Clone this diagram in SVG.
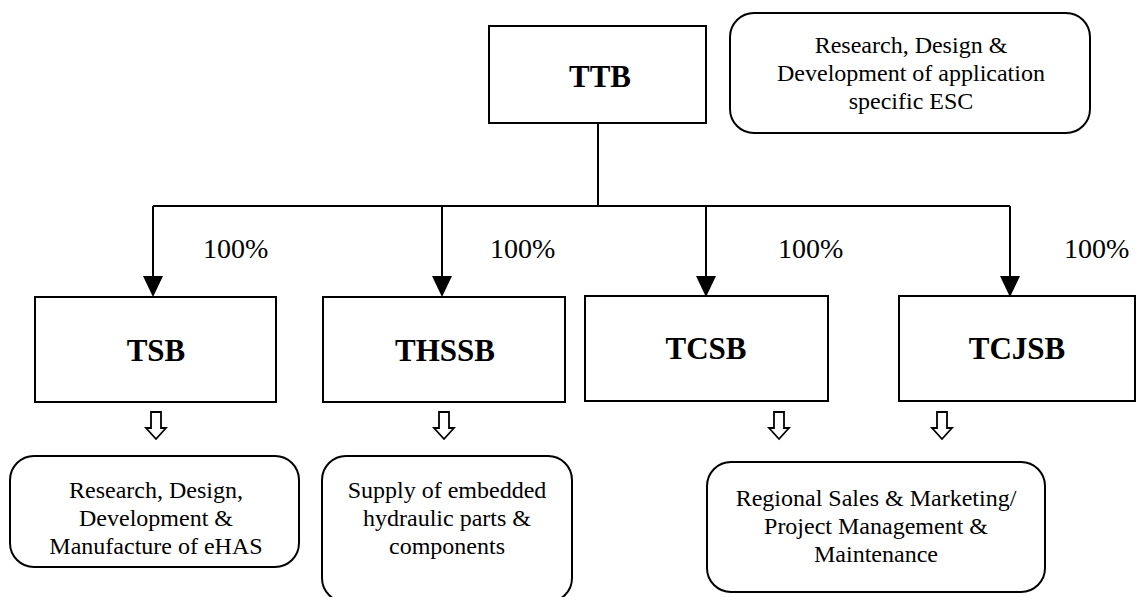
<svg xmlns="http://www.w3.org/2000/svg" width="1137" height="597" viewBox="0 0 1137 597">
<defs>
<style>
.box{fill:#fff;stroke:#000;stroke-width:2}
.rbox{fill:#fff;stroke:#000;stroke-width:2}
.t{font-family:"Liberation Serif","Times New Roman",serif;font-size:24px;fill:#000;text-anchor:middle}
.b{font-family:"Liberation Serif","Times New Roman",serif;font-size:31px;font-weight:bold;fill:#000;text-anchor:middle}
.p{font-family:"Liberation Serif","Times New Roman",serif;font-size:28px;fill:#000}
.ln{fill:none;stroke:#000;stroke-width:2}
.ha{fill:#fff;stroke:#000;stroke-width:1.8;stroke-linejoin:miter}
</style>
<path id="hollow" d="M-5,0 H5 V16 H10 L0,27 L-10,16 H-5 Z"/>
</defs>

<g id="connectors">
<line class="ln" x1="598" y1="123" x2="598" y2="206"/>
<line class="ln" x1="153" y1="206" x2="1010" y2="206"/>
<path class="ln" d="M153,206 V280"/>
<path class="ln" d="M442,206 V280"/>
<path class="ln" d="M706,206 V280"/>
<path class="ln" d="M1010,206 V280"/>
<path d="M143,276 L163,276 L153,297 Z" fill="#000"/>
<path d="M432,276 L452,276 L442,297 Z" fill="#000"/>
<path d="M696,276 L716,276 L706,297 Z" fill="#000"/>
<path d="M1000,276 L1020,276 L1010,297 Z" fill="#000"/>
<use href="#hollow" class="ha" x="156" y="412"/>
<use href="#hollow" class="ha" x="444" y="412"/>
<use href="#hollow" class="ha" x="779" y="412"/>
<use href="#hollow" class="ha" x="942" y="412"/>
</g>

<g id="labels">
<text class="p" x="203" y="258">100%</text>
<text class="p" x="490" y="258">100%</text>
<text class="p" x="778" y="258">100%</text>
<text class="p" x="1064" y="258">100%</text>
</g>

<g id="ttb">
<rect class="box" x="489" y="26" width="217" height="97"/>
<text class="b" x="600" y="87">TTB</text>
</g>

<g id="rd-esc">
<rect class="rbox" x="730" y="13" width="360" height="120" rx="24"/>
<text class="t" x="911" y="53">Research, Design &amp;</text>
<text class="t" x="911" y="81">Development of application</text>
<text class="t" x="911" y="109">specific ESC</text>
</g>

<g id="tsb">
<rect class="box" x="35" y="297" width="241" height="105"/>
<text class="b" x="156" y="361">TSB</text>
</g>

<g id="thssb">
<rect class="box" x="323" y="297" width="242" height="105"/>
<text class="b" x="445" y="361">THSSB</text>
</g>

<g id="tcsb">
<rect class="box" x="585" y="296" width="243" height="105"/>
<text class="b" x="706" y="359">TCSB</text>
</g>

<g id="tcjsb">
<rect class="box" x="899" y="296" width="236" height="105"/>
<text class="b" x="1017" y="359">TCJSB</text>
</g>

<g id="ehas">
<rect class="rbox" x="10" y="456" width="289" height="111" rx="24"/>
<text class="t" x="156" y="498">Research, Design,</text>
<text class="t" x="156" y="526">Development &amp;</text>
<text class="t" x="156" y="554">Manufacture of eHAS</text>
</g>

<g id="hydraulic">
<rect class="rbox" x="322" y="456" width="250" height="146" rx="24"/>
<text class="t" x="447" y="498">Supply of embedded</text>
<text class="t" x="447" y="526">hydraulic parts &amp;</text>
<text class="t" x="447" y="554">components</text>
</g>

<g id="sales">
<rect class="rbox" x="707" y="462" width="338" height="130" rx="24"/>
<text class="t" x="876" y="506">Regional Sales &amp; Marketing/</text>
<text class="t" x="876" y="534">Project Management &amp;</text>
<text class="t" x="876" y="562">Maintenance</text>
</g>
</svg>
